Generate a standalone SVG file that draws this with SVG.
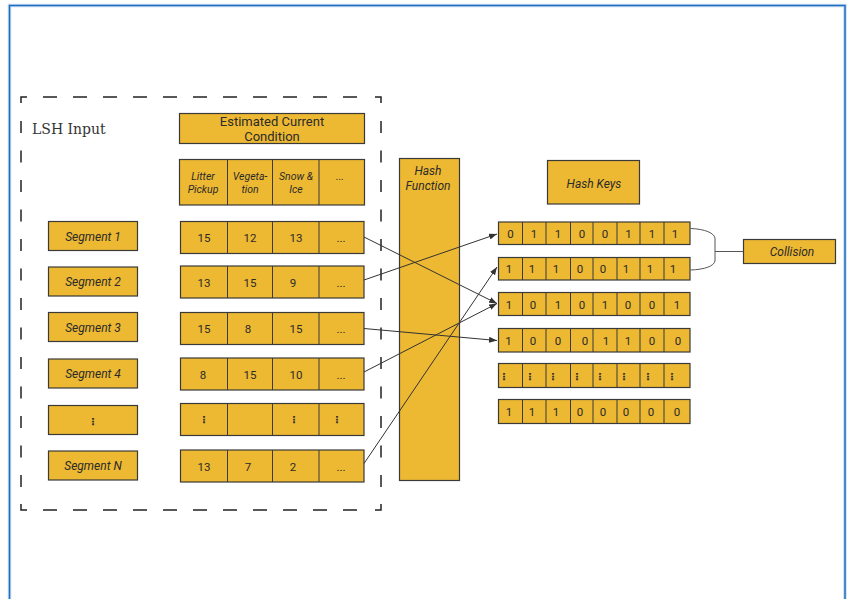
<svg xmlns="http://www.w3.org/2000/svg" width="850" height="599" viewBox="0 0 850 599">
<defs>
<style>
.box{fill:#EDB832;stroke:#3a3a3a;stroke-width:1.2}
.div{stroke:#3a3a3a;stroke-width:1}
.t{font-family:Roboto,"Liberation Sans",sans-serif;fill:#2b2b2b;text-anchor:middle}
.n{font-size:11.5px}
.i{font-style:italic}
.v{font-family:"DejaVu Sans",sans-serif;fill:#2b2b2b;text-anchor:middle;font-size:10px;font-weight:bold}
.dash{stroke:#222;stroke-width:1.5;fill:none}
.con{stroke:#333;stroke-width:1;fill:none}
</style>
<marker id="ah" viewBox="0 0 8 6" refX="8" refY="3" markerWidth="8" markerHeight="6" markerUnits="userSpaceOnUse" orient="auto">
<path d="M0,0 L8,3 L0,6 Z" fill="#333"/>
</marker>
</defs>
<rect width="850" height="599" fill="#fff"/>
<!-- outer frame -->
<rect x="9.5" y="5.5" width="835.5" height="640" fill="none" stroke="#c9dcf0" stroke-width="3.5"/>
<rect x="9.5" y="5.5" width="835.5" height="640" fill="none" stroke="#1b6ec2" stroke-width="1.5"/>

<!-- LSH input dashed container -->
<g id="lsh-input">
<path class="dash" d="M21,103 V97 H27 M375,97 H381 V103 M21,504 V510 H27 M375,510 H381 V504"/>
<line class="dash" x1="43" y1="97" x2="357" y2="97" stroke-dasharray="14 16"/>
<line class="dash" x1="43" y1="510" x2="357" y2="510" stroke-dasharray="14 16"/>
<line class="dash" x1="21" y1="121" x2="21" y2="488" stroke-dasharray="12 17.5"/>
<line class="dash" x1="381" y1="121" x2="381" y2="488" stroke-dasharray="12 17.5"/>
<text x="32" y="134" style="font-family:'DejaVu Serif','Liberation Serif',serif;font-size:14px;fill:#333">LSH Input</text>
</g>

<g id="estimated-current-condition">
<rect class="box" x="179.5" y="113.5" width="185" height="30"/>
<text class="t" x="272" y="126" style="font-size:13px">Estimated Current</text>
<text class="t" x="272" y="140.5" style="font-size:13px">Condition</text>
</g>

<g id="header-row">
<rect class="box" x="179.5" y="159.5" width="185" height="45.5"/>
<line class="div" x1="227.5" y1="159.5" x2="227.5" y2="205"/>
<line class="div" x1="272.5" y1="159.5" x2="272.5" y2="205"/>
<line class="div" x1="319" y1="159.5" x2="319" y2="205"/>
<g class="t i" style="font-size:10.5px">
<text x="203" y="179.5">Litter</text><text x="203" y="193">Pickup</text>
<text x="250" y="179.5">Vegeta-</text><text x="250" y="193">tion</text>
<text x="296" y="179.5">Snow &amp;</text><text x="296" y="193">Ice</text>
<text x="340" y="179.5">...</text>
</g>
</g>

<!-- segment boxes -->
<g id="segment-1"><rect class="box" x="48.5" y="221.5" width="89" height="29"/><text class="t i" x="93" y="240.5" style="font-size:12px">Segment 1</text></g>
<g id="segment-2"><rect class="box" x="48.5" y="267" width="89" height="29"/><text class="t i" x="93" y="286" style="font-size:12px">Segment 2</text></g>
<g id="segment-3"><rect class="box" x="48.5" y="312.5" width="89" height="29"/><text class="t i" x="93" y="331.5" style="font-size:12px">Segment 3</text></g>
<g id="segment-4"><rect class="box" x="48.5" y="359" width="89" height="29"/><text class="t i" x="93" y="378" style="font-size:12px">Segment 4</text></g>
<g id="segment-dots"><rect class="box" x="48.5" y="405.5" width="89" height="29"/><text class="v" x="93" y="424.5">⋮</text></g>
<g id="segment-n"><rect class="box" x="48.5" y="451" width="89" height="29"/><text class="t i" x="93" y="470" style="font-size:12px">Segment N</text></g>

<!-- value rows -->
<g id="values-1">
<rect class="box" x="180.5" y="221.5" width="183.5" height="32"/>
<path class="div" d="M227.5,221.5V253.5M272.5,221.5V253.5M319,221.5V253.5"/>
<g class="t n"><text x="204" y="241.5">15</text><text x="250" y="241.5">12</text><text x="296" y="241.5">13</text><text x="341" y="241.5">...</text></g>
</g>
<g id="values-2">
<rect class="box" x="180.5" y="266" width="183.5" height="32"/>
<path class="div" d="M227.5,266V298M272.5,266V298M319,266V298"/>
<g class="t n"><text x="204" y="286.5">13</text><text x="250" y="286.5">15</text><text x="293" y="286.5">9</text><text x="341" y="286.5">...</text></g>
</g>
<g id="values-3">
<rect class="box" x="180.5" y="312.5" width="183.5" height="32"/>
<path class="div" d="M227.5,312.5V344.5M272.5,312.5V344.5M319,312.5V344.5"/>
<g class="t n"><text x="204" y="333">15</text><text x="248" y="333">8</text><text x="296" y="333">15</text><text x="341" y="333">...</text></g>
</g>
<g id="values-4">
<rect class="box" x="180.5" y="358" width="183.5" height="32"/>
<path class="div" d="M227.5,358V390M272.5,358V390M319,358V390"/>
<g class="t n"><text x="203" y="378.5">8</text><text x="250" y="378.5">15</text><text x="296" y="378.5">10</text><text x="341" y="378.5">...</text></g>
</g>
<g id="values-dots">
<rect class="box" x="180.5" y="403.5" width="183.5" height="32"/>
<path class="div" d="M227.5,403.5V435.5M272.5,403.5V435.5M319,403.5V435.5"/>
<g class="v"><text x="204" y="423">⋮</text><text x="294" y="423">⋮</text><text x="337" y="423">⋮</text></g>
</g>
<g id="values-n">
<rect class="box" x="180.5" y="450" width="183.5" height="32"/>
<path class="div" d="M227.5,450V482M272.5,450V482M319,450V482"/>
<g class="t n"><text x="204" y="470.5">13</text><text x="248" y="470.5">7</text><text x="293" y="470.5">2</text><text x="341" y="470.5">...</text></g>
</g>

<g id="hash-function">
<rect class="box" x="399.5" y="158.5" width="60" height="322"/>
<text class="t i" x="428" y="175" style="font-size:12px">Hash</text>
<text class="t i" x="428" y="190" style="font-size:12px">Function</text>
</g>

<g id="hash-keys-label">
<rect class="box" x="547.5" y="160.5" width="92" height="43.5"/>
<text class="t i" x="594" y="187.5" style="font-size:12px">Hash Keys</text>
</g>

<!-- hash key rows -->
<g id="key-1">
<rect class="box" x="498.5" y="222" width="191.5" height="22.5"/>
<path class="div" d="M522.5,222v22.5M546,222v22.5M570.5,222v22.5M593,222v22.5M617,222v22.5M640,222v22.5M664,222v22.5"/>
<g class="t n"><text x="510.5" y="237.5">0</text><text x="534" y="237.5">1</text><text x="558" y="237.5">1</text><text x="582" y="237.5">0</text><text x="605" y="237.5">0</text><text x="628.5" y="237.5">1</text><text x="652" y="237.5">1</text><text x="675" y="237.5">1</text></g>
</g>
<g id="key-2">
<rect class="box" x="498.5" y="257.5" width="191.5" height="22.5"/>
<path class="div" d="M522.5,257.5v22.5M546,257.5v22.5M570.5,257.5v22.5M593,257.5v22.5M617,257.5v22.5M640,257.5v22.5M664,257.5v22.5"/>
<g class="t n"><text x="509" y="273">1</text><text x="532" y="273">1</text><text x="556" y="273">1</text><text x="580" y="273">0</text><text x="603" y="273">0</text><text x="626" y="273">1</text><text x="650" y="273">1</text><text x="673" y="273">1</text></g>
</g>
<g id="key-3">
<rect class="box" x="498.5" y="292.5" width="191.5" height="23"/>
<path class="div" d="M522.5,292.5v23M546,292.5v23M570.5,292.5v23M593,292.5v23M617,292.5v23M640,292.5v23M664,292.5v23"/>
<g class="t n"><text x="509" y="308.5">1</text><text x="533" y="308.5">0</text><text x="558" y="308.5">1</text><text x="582" y="308.5">0</text><text x="605" y="308.5">1</text><text x="628" y="308.5">0</text><text x="652" y="308.5">0</text><text x="677" y="308.5">1</text></g>
</g>
<g id="key-4">
<rect class="box" x="498.5" y="328.5" width="191.5" height="23.5"/>
<path class="div" d="M522.5,328.5v23.5M546,328.5v23.5M570.5,328.5v23.5M593,328.5v23.5M617,328.5v23.5M640,328.5v23.5M664,328.5v23.5"/>
<g class="t n"><text x="508.5" y="345">1</text><text x="533" y="345">0</text><text x="558" y="345">0</text><text x="585" y="345">0</text><text x="606" y="345">1</text><text x="628" y="345">1</text><text x="652" y="345">0</text><text x="678" y="345">0</text></g>
</g>
<g id="key-dots">
<rect class="box" x="498.5" y="363.5" width="191.5" height="24"/>
<path class="div" d="M522.5,363.5v24M546,363.5v24M570.5,363.5v24M593,363.5v24M617,363.5v24M640,363.5v24M664,363.5v24"/>
<g class="v"><text x="504" y="380">⋮</text><text x="530" y="380">⋮</text><text x="553" y="380">⋮</text><text x="577" y="380">⋮</text><text x="600" y="380">⋮</text><text x="624" y="380">⋮</text><text x="648" y="380">⋮</text><text x="672" y="380">⋮</text></g>
</g>
<g id="key-6">
<rect class="box" x="498.5" y="399.5" width="191.5" height="24"/>
<path class="div" d="M522.5,399.5v24M546,399.5v24M570.5,399.5v24M593,399.5v24M617,399.5v24M640,399.5v24M664,399.5v24"/>
<g class="t n"><text x="509" y="416">1</text><text x="532" y="416">1</text><text x="556" y="416">1</text><text x="580" y="416">0</text><text x="603" y="416">0</text><text x="626" y="416">0</text><text x="651" y="416">0</text><text x="677" y="416">0</text></g>
</g>

<g id="collision">
<rect class="box" x="743.5" y="239.5" width="92" height="24"/>
<text class="t i" x="792" y="255.5" style="font-size:12px">Collision</text>
</g>

<!-- connectors -->
<g id="connectors">
<line class="con" x1="364" y1="237" x2="497" y2="303.5" marker-end="url(#ah)"/>
<line class="con" x1="364" y1="280" x2="497" y2="234" marker-end="url(#ah)"/>
<line class="con" x1="364" y1="328.5" x2="497" y2="340.5" marker-end="url(#ah)"/>
<line class="con" x1="364" y1="372" x2="497" y2="303.5" marker-end="url(#ah)"/>
<line class="con" x1="364" y1="463.5" x2="497" y2="267" marker-end="url(#ah)"/>
<path d="M690.5,228.5 C705,229 714,233 715,238 V261 C714,266 705,269.5 690.5,270" fill="none" stroke="#555" stroke-width="1"/>
<line x1="715" y1="251.5" x2="743.5" y2="251.5" stroke="#555" stroke-width="1"/>
</g>
</svg>
